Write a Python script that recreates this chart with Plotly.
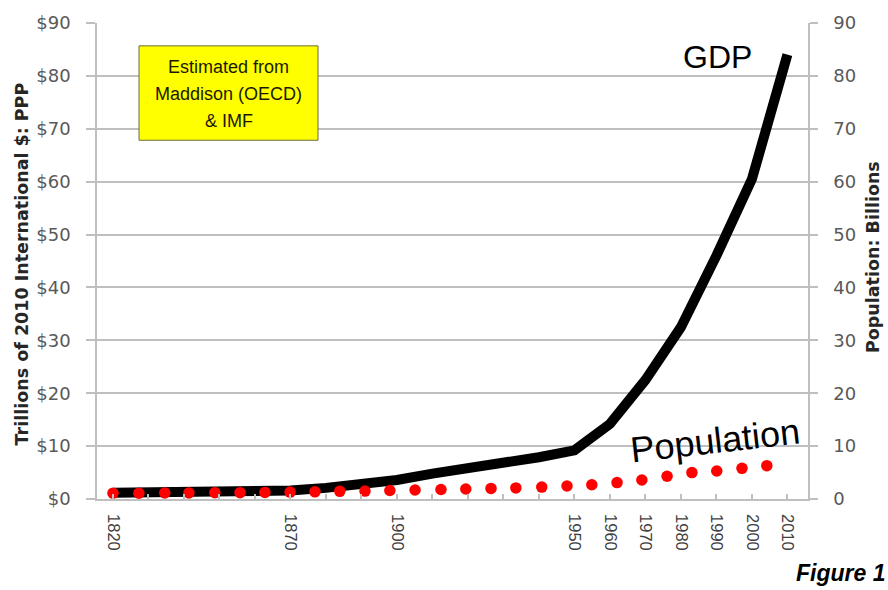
import plotly.graph_objects as go

# ---- data ----
gdp_years = [1820, 1830, 1840, 1850, 1860, 1870, 1880, 1890, 1900, 1910,
             1920, 1930, 1940, 1950, 1960, 1970, 1980, 1990, 2000, 2010]
gdp_values = [1.2, 1.25, 1.3, 1.4, 1.5, 1.6, 2.1, 2.8, 3.6, 4.8,
              5.7, 6.8, 7.9, 9.2, 14.2, 22.5, 32.5, 46.0, 60.5, 84.0]

pop_years = [1820.0, 1827.3, 1834.6, 1841.4, 1848.7, 1855.8, 1862.8, 1869.9,
             1876.9, 1883.9, 1891.0, 1898.0, 1905.1, 1912.4, 1919.4, 1926.5,
             1933.5, 1940.8, 1947.9, 1954.9, 1962.0, 1969.0, 1976.1, 1983.1,
             1990.1, 1997.2, 2004.2]
pop_values = [1.1, 1.1, 1.15, 1.15, 1.2, 1.2, 1.25, 1.3,
              1.35, 1.45, 1.5, 1.6, 1.7, 1.8, 1.9, 2.0,
              2.1, 2.25, 2.45, 2.7, 3.1, 3.6, 4.3, 5.0,
              5.3, 5.8, 6.3]

x_tick_years = [1820, 1870, 1900, 1950, 1960, 1970, 1980, 1990, 2000, 2010]
x_tick_labels = [str(y) for y in x_tick_years]
y_ticks = list(range(0, 91, 10))

GRID = "#BFBFBF"
TICKFONT = dict(family="DejaVu Sans", size=18, color="#595959")

fig = go.Figure()
fig.add_trace(go.Scatter(
    x=gdp_years, y=gdp_values, mode="lines", name="GDP",
    line=dict(color="black", width=10), yaxis="y", showlegend=False))
fig.add_trace(go.Scatter(
    x=pop_years, y=pop_values, mode="markers", name="Population",
    marker=dict(color="#FF0000", size=11.5, line=dict(width=0)),
    yaxis="y2", showlegend=False))

fig.update_layout(
    width=888, height=590,
    margin=dict(l=97, r=80, t=20, b=91),
    paper_bgcolor="white", plot_bgcolor="white",
    xaxis=dict(
        range=[1815.5, 2015.8], tickmode="array", tickvals=x_tick_years,
        ticktext=x_tick_labels, tickangle=90,
        tickfont=dict(family="Liberation Sans", size=16.5, color="#404040"),
        ticks="inside", ticklen=5, tickcolor=GRID, tickwidth=1.5,
        minor=dict(dtick=10, tick0=1820, ticks="inside", ticklen=5,
                   tickcolor=GRID, tickwidth=1.5, showgrid=False),
        showgrid=False, zeroline=False, showline=True, linecolor=GRID,
        linewidth=1.5, ticklabelstandoff=10),
    yaxis=dict(
        range=[0, 90], tickmode="array", tickvals=y_ticks,
        ticktext=["$" + str(v) for v in y_ticks], tickfont=TICKFONT,
        ticks="outside", ticklen=9, tickcolor=GRID, tickwidth=1.5,
        showgrid=True, gridcolor=GRID, gridwidth=1.5, zeroline=False,
        showline=True, linecolor=GRID, linewidth=1.5, ticklabelstandoff=12),
    yaxis2=dict(
        range=[0, 90], overlaying="y", side="right", tickmode="array",
        tickvals=y_ticks, ticktext=[str(v) for v in y_ticks],
        tickfont=TICKFONT, ticks="outside", ticklen=8, tickcolor=GRID,
        tickwidth=1.5, showgrid=False, zeroline=False, showline=True,
        linecolor=GRID, linewidth=1.5, ticklabelstandoff=12),
)

# axis titles
fig.add_annotation(xref="paper", yref="paper", x=(22 - 97) / 711, y=(499 - 263) / 479,
                   text="<b>Trillions of 2010 International $: PPP</b>", textangle=-90,
                   showarrow=False, xanchor="center", yanchor="middle",
                   font=dict(family="DejaVu Sans", size=17.5, color="#262626"))
fig.add_annotation(xref="paper", yref="paper", x=(872.5 - 97) / 711, y=(499 - 255) / 479,
                   text="<b>Population: Billions</b>", textangle=-90,
                   showarrow=False, xanchor="center", yanchor="middle",
                   font=dict(family="DejaVu Sans", size=17.5, color="#262626"))

# series labels
fig.add_annotation(x=1990.3, y=83.5, xref="x", yref="y", text="GDP", showarrow=False,
                   font=dict(family="Liberation Sans", size=32, color="black"))
fig.add_annotation(x=1989.7, y=11.1, xref="x", yref="y", text="Population",
                   showarrow=False, textangle=-6.5,
                   font=dict(family="Liberation Sans", size=36, color="black"))

# source box
fig.add_shape(type="rect", xref="paper", yref="paper",
              x0=(139 - 97) / 711, x1=(318 - 97) / 711,
              y0=(499 - 138) / 479, y1=(499 - 43) / 479,
              fillcolor="#FFFF00", line=dict(color="#6b6b40", width=1))
for txt, yc in [("Estimated from", 64), ("Maddison (OECD)", 91.5), ("& IMF", 118.5)]:
    fig.add_annotation(xref="paper", yref="paper", x=(228.5 - 97) / 711,
                       y=(499 - yc) / 479, text=txt, showarrow=False,
                       xanchor="center", yanchor="middle",
                       font=dict(family="Liberation Sans", size=18, color="#1a1a00"))

# figure caption (bottom-right corner)
fig.add_annotation(xref="paper", yref="paper", x=(886 - 97) / 711, y=(499 - 573) / 479,
                   text="<b><i>Figure 1</i></b>", showarrow=False,
                   xanchor="right", yanchor="middle", borderpad=0,
                   font=dict(family="Liberation Sans", size=23, color="black"))

fig.write_html("out.html")
